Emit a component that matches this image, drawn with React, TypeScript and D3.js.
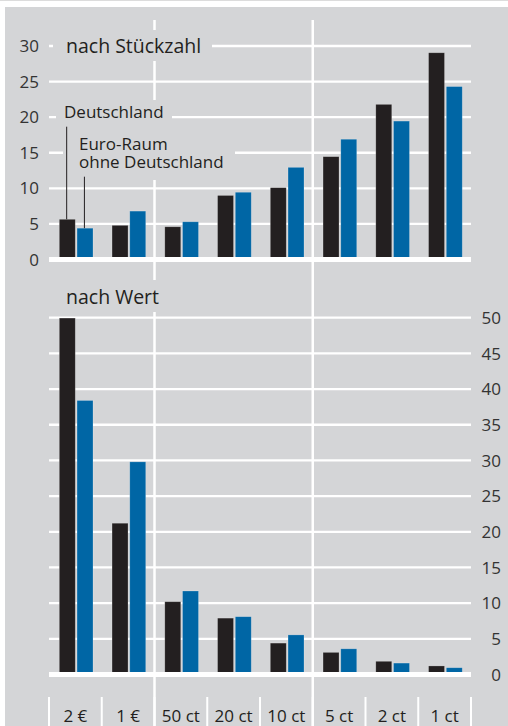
import React from 'react';
import * as d3 from 'd3';

const categories = ['2 €', '1 €', '50 ct', '20 ct', '10 ct', '5 ct', '2 ct', '1 ct'];
const seriesNames = ['Deutschland', 'Euro-Raum ohne Deutschland'];
const countDE = [5.65, 4.8, 4.6, 9.0, 10.1, 14.45, 21.8, 29.05];
const countEA = [4.4, 6.8, 5.3, 9.45, 12.95, 16.9, 19.45, 24.3];
const valueDE = [49.95, 21.2, 10.2, 7.9, 4.4, 3.1, 1.85, 1.2];
const valueEA = [38.4, 29.8, 11.7, 8.1, 5.55, 3.6, 1.6, 0.95];
const countTicks = [0, 5, 10, 15, 20, 25, 30];
const valueTicks = [0, 5, 10, 15, 20, 25, 30, 35, 40, 45, 50];
const dividers = ['50 ct', '5 ct'];

const W = 508;
const H = 726;
const BG = '#d4d5d7';
const BLACK = '#231f20';
const BLUE = '#0066a5';
const TEXT = '#231f20';
const FONT = '"Open Sans", "Noto Sans", sans-serif';

export default function App() {
  const x0 = d3.scaleBand<string>().domain(categories).range([49, 471]).padding(0);
  const x1 = d3.scaleBand<string>().domain(seriesNames).range([10.3, 44]).paddingInner(0.1).paddingOuter(0);
  const yTop = d3.scaleLinear().domain([0, 30]).range([259.5, 46]);
  const yBot = d3.scaleLinear().domain([0, 50]).range([674.5, 317.7]);

  const bars = (vals: number[][], y: d3.ScaleLinear<number, number>, key: string) =>
    categories.map((c, i) =>
      seriesNames.map((s, j) => {
        const v = vals[j][i];
        const bx = (x0(c) as number) + (x1(s) as number);
        return (
          <rect
            key={`${key}-${i}-${j}`}
            x={bx}
            y={y(v)}
            width={x1.bandwidth()}
            height={y(0) - y(v)}
            fill={j === 0 ? BLACK : BLUE}
            stroke="rgba(255,255,255,0.3)"
            strokeWidth={0.7}
          />
        );
      })
    );

  const grid = (ticks: number[], y: d3.ScaleLinear<number, number>, key: string) =>
    ticks.map((t) => (
      <line
        key={`${key}-g-${t}`}
        x1={49}
        x2={471}
        y1={y(t)}
        y2={y(t)}
        stroke="#fff"
        strokeWidth={t === 0 ? 5 : 2.3}
      />
    ));

  const catStart = (c: string) => x0(c) as number;
  const bandW = x0.bandwidth();
  const deBar = (x0(categories[0]) as number) + (x1(seriesNames[0]) as number) + x1.bandwidth() / 2;
  const eaBar = (x0(categories[0]) as number) + (x1(seriesNames[1]) as number) + x1.bandwidth() / 2;

  return (
    <svg
      width={W}
      height={H}
      style={{ position: 'absolute', left: 0, top: 0, display: 'block' }}
      fontFamily={FONT}
    >
      <rect x={0} y={0} width={W} height={H} fill="#fff" />
      <rect x={0} y={0} width={W} height={1} fill="#dcdcdc" />
      <rect x={5} y={7} width={W - 5} height={H - 7} fill={BG} />

      {/* vertical divider lines */}
      {dividers.map((c) => (
        <line key={`div-${c}`} x1={catStart(c)} x2={catStart(c)} y1={20} y2={H} stroke="#fff" strokeWidth={2.5} />
      ))}

      {/* top chart */}
      {grid(countTicks, yTop, 'top')}
      {/* bottom chart */}
      {grid(valueTicks, yBot, 'bot')}

      {/* label masks */}
      <rect x={53} y={30} width={159} height={31} fill={BG} />
      <rect x={56} y={100} width={116} height={27} fill={BG} />
      <rect x={63} y={127} width={172} height={53} fill={BG} />
      <rect x={60} y={280} width={140} height={32} fill={BG} />

      {bars([countDE, countEA], yTop, 'tb')}
      {bars([valueDE, valueEA], yBot, 'bb')}
      <line x1={49} x2={471} y1={yTop(0)} y2={yTop(0)} stroke="#fff" strokeWidth={5} />
      <line x1={49} x2={471} y1={yBot(0)} y2={yBot(0)} stroke="#fff" strokeWidth={5} />

      {/* top tick labels */}
      {countTicks.map((t) => (
        <text key={`tl-${t}`} x={39} y={yTop(t)} dy="0.36em" textAnchor="end" fontSize={17} fill="#333">
          {t}
        </text>
      ))}
      {/* bottom tick labels */}
      {valueTicks.map((t) => (
        <text key={`bl-${t}`} x={501} y={yBot(t)} dy="0.36em" textAnchor="end" fontSize={17} fill="#333">
          {t}
        </text>
      ))}

      {/* titles */}
      <text x={66} y={53.3} fontSize={19.5} fill={TEXT}>nach Stückzahl</text>
      <text x={66} y={304.3} fontSize={19.5} fill={TEXT}>nach Wert</text>

      {/* legend */}
      <text x={64} y={118.3} fontSize={17} fill={TEXT}>{seriesNames[0]}</text>
      <text x={79} y={150} fontSize={17} fill={TEXT}>Euro-Raum</text>
      <text x={79} y={168.3} fontSize={17} fill={TEXT}>ohne Deutschland</text>
      <line x1={deBar - 0.6} x2={deBar - 0.6} y1={126.7} y2={yTop(countDE[0])} stroke={BLACK} strokeWidth={1} />
      <line x1={eaBar - 0.6} x2={eaBar - 0.6} y1={176.7} y2={yTop(countEA[0])} stroke={BLACK} strokeWidth={1} />

      {/* bottom category separators and labels */}
      {[...categories.map((c) => catStart(c)), 471].map((xv, i) => (
        <line key={`sep-${i}`} x1={xv} x2={xv} y1={697} y2={H} stroke="#fff" strokeWidth={2} />
      ))}
      {categories.map((c) => (
        <text key={`cl-${c}`} x={catStart(c) + bandW / 2} y={721.7} textAnchor="middle" fontSize={17} fill={TEXT}>
          {c}
        </text>
      ))}
    </svg>
  );
}
